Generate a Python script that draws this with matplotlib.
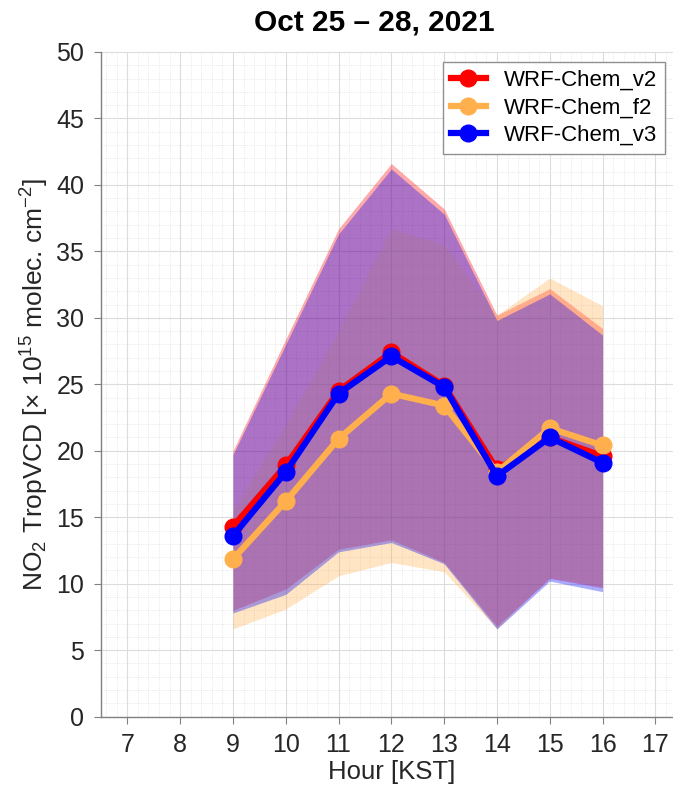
import numpy as np
import matplotlib
matplotlib.use("Agg")
import matplotlib.pyplot as plt
from matplotlib.ticker import MultipleLocator

plt.rcParams['font.family'] = ['Liberation Sans', 'DejaVu Sans']
plt.rcParams['mathtext.default'] = 'regular'

# hours and model series
hours = [9, 10, 11, 12, 13, 14, 15, 16]

v2_mean = [14.3, 18.9, 24.5, 27.4, 24.9, 18.6, 21.0, 19.6]
f2_mean = [11.85, 16.2, 20.9, 24.3, 23.4, 18.4, 21.7, 20.4]
v3_mean = [13.6, 18.4, 24.3, 27.1, 24.8, 18.1, 21.0, 19.1]

v2_upper = [20.0, 28.4, 36.7, 41.6, 38.2, 30.2, 32.2, 29.2]
v2_lower = [8.0, 9.6, 12.6, 13.3, 11.6, 6.8, 10.4, 9.7]
f2_upper = [15.5, 22.0, 29.0, 36.7, 35.5, 30.2, 33.0, 30.9]
f2_lower = [6.6, 8.1, 10.6, 11.6, 10.9, 6.6, 10.5, 9.8]
v3_upper = [19.7, 28.0, 36.3, 41.2, 37.8, 29.8, 31.8, 28.7]
v3_lower = [7.8, 9.2, 12.4, 13.1, 11.5, 6.6, 10.2, 9.4]

series = [
    ("WRF-Chem_v2", v2_mean, v2_lower, v2_upper, (1.0, 0.0, 0.0)),
    ("WRF-Chem_f2", f2_mean, f2_lower, f2_upper, (1.0, 0.69, 0.30)),
    ("WRF-Chem_v3", v3_mean, v3_lower, v3_upper, (0.0, 0.0, 1.0)),
]

fig = plt.figure(figsize=(6.73, 7.97), dpi=100)
ax = fig.add_axes([0.150, 0.1008, 0.863, 0.834])

# shaded ranges first
for name, mean, lo, hi, col in series:
    ax.fill_between(hours, lo, hi, color=col, alpha=0.33, linewidth=0, zorder=2)

# mean lines with markers
for name, mean, lo, hi, col in series:
    ax.plot(hours, mean, '-o', color=col, lw=4.5, ms=12, label=name, zorder=3)

ax.set_xlim(6.5, 17.5)
ax.set_ylim(0, 50)
ax.xaxis.set_major_locator(MultipleLocator(1))
ax.xaxis.set_minor_locator(MultipleLocator(0.2))
ax.yaxis.set_major_locator(MultipleLocator(5))
ax.yaxis.set_minor_locator(MultipleLocator(1))

ax.grid(True, which='major', color='#dcdcdc', lw=0.8, zorder=0)
ax.grid(True, which='minor', color='#e0e0e0', lw=0.6, linestyle=':', zorder=0)
ax.set_axisbelow(True)

for s in ['top', 'right']:
    ax.spines[s].set_visible(False)
for s in ['left', 'bottom']:
    ax.spines[s].set_color('#808080')
    ax.spines[s].set_linewidth(1.0)

ax.tick_params(which='major', direction='out', length=5, width=0.8,
               color='#808080', labelsize=18, labelcolor='#262626', pad=7)
ax.tick_params(which='minor', length=0)

ax.set_xlabel("Hour [KST]", fontsize=18.5, color='#262626', labelpad=2)
ax.set_ylabel("NO$_2$ TropVCD [× 10$^{15}$ molec. cm$^{-2}$]",
              fontsize=19, color='#262626', labelpad=4)

fig.text(0.556, 0.972, "Oct 25 – 28, 2021", ha='center', va='center',
         fontsize=21.5, fontweight='bold')

leg = ax.legend(loc='upper right', bbox_to_anchor=(665 / 673, 1 - 62 / 797),
                bbox_transform=fig.transFigure, borderaxespad=0,
                fontsize=16, handlelength=1.6, handletextpad=0.8,
                labelspacing=0.3, borderpad=0.35, fancybox=False,
                framealpha=1, edgecolor='#909090')
leg.get_frame().set_linewidth(1.0)

fig.savefig("out.png", dpi=100)
